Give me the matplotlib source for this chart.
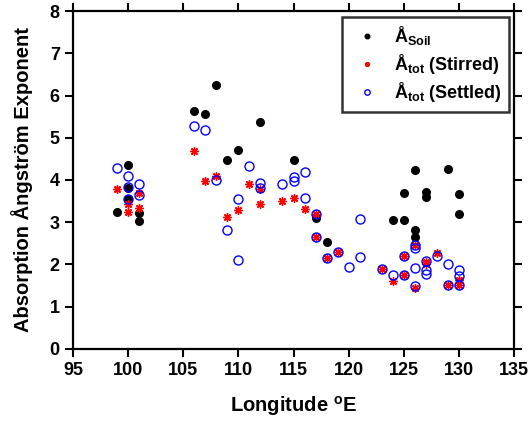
import matplotlib.pyplot as plt

plt.rcParams['font.family'] = ['Liberation Sans', 'DejaVu Sans']
plt.rcParams['font.weight'] = 'bold'
plt.rcParams['mathtext.fontset'] = 'custom'
plt.rcParams['mathtext.rm'] = 'Liberation Sans:bold'
plt.rcParams['mathtext.bf'] = 'Liberation Sans:bold'
plt.rcParams['mathtext.it'] = 'Liberation Sans:bold'
plt.rcParams['mathtext.default'] = 'bf'

# Angstrom exponent of soil samples
soil_lon = [99, 100, 100, 100, 101, 101, 106, 107, 108, 109, 110, 112, 115,
            117, 118, 124, 125, 125, 126, 126, 126, 127, 127, 129, 130, 130]
soil_val = [3.25, 4.35, 3.80, 3.55, 3.23, 3.02, 5.63, 5.57, 6.25, 4.47, 4.72, 5.37, 4.47,
            3.11, 2.54, 3.05, 3.70, 3.05, 4.24, 2.82, 2.64, 3.72, 3.59, 4.25, 3.66, 3.19]

# total, stirred
stir_lon = [99, 100, 100, 101, 101, 106, 107, 108, 109, 110, 111, 112, 112, 114, 115,
            116, 117, 117, 118, 119, 123, 124, 125, 125, 126, 126, 127, 127, 128,
            129, 130, 130]
stir_val = [3.79, 3.43, 3.25, 3.70, 3.33, 4.69, 3.97, 4.09, 3.12, 3.28, 3.90, 3.78, 3.42,
            3.51, 3.57, 3.31, 3.20, 2.64, 2.15, 2.29, 1.90, 1.62, 2.20, 1.74, 2.45, 1.44,
            2.07, 2.01, 2.28, 1.52, 1.63, 1.52]

# total, settled
sett_lon = [99, 100, 100, 100, 101, 101, 106, 107, 108, 109, 110, 110, 111, 112, 112,
            114, 115, 115, 116, 116, 117, 117, 118, 119, 120, 121, 121, 123, 124, 125,
            125, 126, 126, 126, 126, 127, 127, 127, 128, 129, 129, 130, 130, 130]
sett_val = [4.29, 4.09, 3.83, 3.55, 3.91, 3.64, 5.27, 5.19, 4.01, 2.82, 3.56, 2.11, 4.34,
            3.94, 3.80, 3.90, 4.08, 3.98, 4.20, 3.58, 3.20, 2.65, 2.15, 2.29, 1.94, 3.08,
            2.18, 1.90, 1.74, 2.20, 1.74, 2.45, 2.40, 1.91, 1.50, 2.08, 1.88, 1.77, 2.19,
            2.01, 1.52, 1.86, 1.72, 1.52]

xticks = [95, 100, 105, 110, 115, 120, 125, 130, 135]
yticks = [0, 1, 2, 3, 4, 5, 6, 7, 8]

fig = plt.figure(figsize=(5.31, 4.24), dpi=100)
ax = fig.add_axes([0.1375, 0.177, 0.8305, 0.797])

ax.plot(soil_lon, soil_val, 'o', color='black', ms=5.5, mec='black', label='Å$_{Soil}$')
ax.plot(stir_lon, stir_val, marker=(8, 2, 0), ls='none', color='red', ms=6, mew=1.0,
        label='Å$_{tot}$ (Stirred)')
ax.plot(sett_lon, sett_val, 'o', mfc='none', mec='blue', ms=6.5, mew=1.0, label='Å$_{tot}$ (Settled)')

ax.set_xlim(95, 135)
ax.set_ylim(0, 8)
ax.set_xticks(xticks)
ax.set_yticks(yticks)
ax.tick_params(direction='out', top=True, right=True, length=6, width=1.5, labelsize=13)
for s in ax.spines.values():
    s.set_linewidth(1.6)

ax.set_xlabel('Longitude $^{o}$E', fontsize=14.5, fontweight='bold', labelpad=11)
ax.set_ylabel('Absorption Ångström Exponent', fontsize=14.5, fontweight='bold', labelpad=12)

leg = ax.legend(loc='upper right', fontsize=13, frameon=True, fancybox=False, markerscale=0.6,
                handletextpad=0.5, borderpad=0.4, labelspacing=0.25, handlelength=2.0,
                borderaxespad=0, bbox_to_anchor=(0.989, 0.982))
leg.get_frame().set_edgecolor('black')
leg.get_frame().set_linewidth(1.8)

fig.savefig('out.png', dpi=100)
